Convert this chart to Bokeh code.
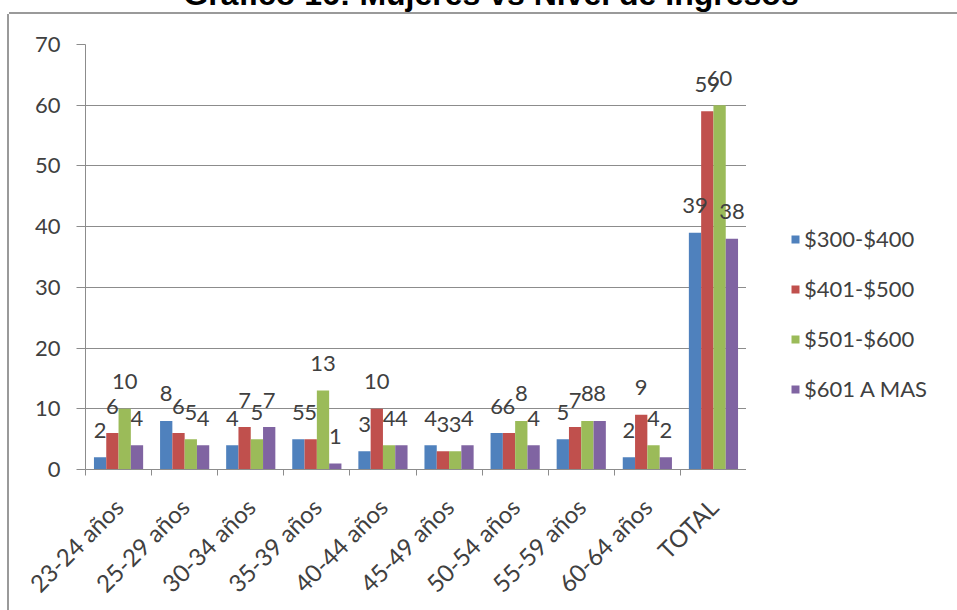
import numpy as np
from bokeh.plotting import figure
from bokeh.models import Range1d, FixedTicker, Legend, LegendItem, Div
from bokeh.layouts import column, row
from bokeh.core.properties import value
from bokeh.embed import file_html
from bokeh.resources import INLINE

# ---- data ----
categories = ["23-24 años", "25-29 años", "30-34 años", "35-39 años", "40-44 años",
              "45-49 años", "50-54 años", "55-59 años", "60-64 años", "TOTAL"]
series_names = ["$300-$400", "$401-$500", "$501-$600", "$601 A MAS"]
s300_400 = [2, 8, 4, 5, 3, 4, 6, 5, 2, 39]
s401_500 = [6, 6, 7, 5, 10, 3, 6, 7, 9, 59]
s501_600 = [10, 5, 5, 13, 4, 3, 8, 8, 4, 60]
s601_mas = [4, 4, 7, 1, 4, 4, 4, 8, 2, 38]
y_ticks = [0, 10, 20, 30, 40, 50, 60, 70]
title_text = "Gráfico 16: Mujeres vs Nivel de Ingresos"

series = [s300_400, s401_500, s501_600, s601_mas]
colors = ["#4F81BD", "#C0504D", "#9BBB59", "#8064A2"]
FONT = "Lato"
TXT = "#404040"
GRID = "#8c8c8c"
BORDER = "#9a9a9a"

n = len(categories)
p = figure(width=737, height=596, output_backend="svg", toolbar_location=None,
           x_range=Range1d(0, n), y_range=Range1d(0, 70),
           min_border_left=76, min_border_right=0, min_border_top=30,
           min_border_bottom=141)
p.outline_line_color = None
p.background_fill_color = "white"
p.border_fill_color = "white"

# axes
centers = np.arange(n) + 0.5
p.xaxis.ticker = FixedTicker(ticks=list(centers), minor_ticks=list(range(n + 1)))
p.xaxis.major_label_overrides = {float(c): lab for c, lab in zip(centers, categories)}
p.xaxis.major_label_orientation = np.pi / 4
p.xaxis.major_tick_line_color = None
p.xaxis.minor_tick_in = 0
p.xaxis.minor_tick_out = 6
p.xaxis.minor_tick_line_color = GRID
p.xaxis.axis_line_color = GRID
p.xaxis.major_label_standoff = 27
p.xaxis.major_label_text_font = FONT
p.xaxis.major_label_text_font_size = "24px"
p.xaxis.major_label_text_color = TXT

p.yaxis.ticker = FixedTicker(ticks=y_ticks)
p.yaxis.major_tick_in = 0
p.yaxis.major_tick_out = 9
p.yaxis.major_tick_line_color = GRID
p.yaxis.minor_tick_line_color = None
p.yaxis.axis_line_color = GRID
p.yaxis.major_label_standoff = 16
p.yaxis.major_label_text_font = FONT
p.yaxis.major_label_text_font_size = "22px"
p.yaxis.major_label_text_color = TXT

p.xgrid.grid_line_color = None
p.ygrid.grid_line_color = GRID
p.ygrid.grid_line_width = 1

# legend panel (separate small figure holding the legend)
lg = figure(width=209, height=596, output_backend="svg", toolbar_location=None,
            x_range=Range1d(0, 1), y_range=Range1d(0, 1),
            min_border=0, x_axis_type=None, y_axis_type=None)
lg.outline_line_color = None
lg.grid.grid_line_color = None
lg.border_fill_color = "white"

# bars
bw = 0.186
offsets = [-1.5 * bw, -0.5 * bw, 0.5 * bw, 1.5 * bw]
items = []
for vals, name, col, off in zip(series, series_names, colors, offsets):
    xs = centers + off
    p.vbar(x=xs, top=vals, width=bw, fill_color=col, line_color=None)
    swatch = lg.vbar(x=xs, top=vals, width=bw, fill_color=col, line_color=None,
                     visible=False)
    items.append(LegendItem(label=name, renderers=[swatch]))

# data labels drawn above all bars
for vals, off in zip(series, offsets):
    xs = centers + off
    p.text(x=xs, y=vals, text=[str(v) for v in vals], text_align="center",
           text_baseline="middle", y_offset=-27, text_font=value(FONT),
           text_font_size="22px", text_color=TXT)

legend = Legend(items=items, location=(44, 67), orientation="vertical",
                border_line_color=None, background_fill_alpha=0,
                inactive_fill_alpha=0,
                padding=0, margin=0, spacing=23, glyph_width=10, glyph_height=10,
                label_standoff=4, label_height=20,
                label_text_font=FONT, label_text_font_size="22px",
                label_text_color=TXT)
lg.add_layout(legend, "center")

# title strip (title partly above the page, as in the source) + top border line
top_html = (
    '<div style="position:relative;width:957px;height:14px;overflow:hidden;">'
    '<div style="position:absolute;left:0;top:-22px;width:982px;text-align:center;'
    "font-family:'Liberation Sans',Arial,sans-serif;font-weight:bold;font-size:32px;"
    'line-height:32px;white-space:nowrap;color:#000;">' + title_text + '</div>'
    '<div style="position:absolute;left:9px;right:0;top:12px;height:2px;'
    'background:' + BORDER + ';"></div></div>'
)
top_div = Div(text=top_html, width=957, height=14, margin=0)
left_div = Div(text="", width=9, height=596, margin=0,
               styles={"border-right": "2px solid " + BORDER})

layout = column(top_div, row(left_div, p, lg, spacing=0), spacing=0)
open("out.html", "w").write(file_html(layout, INLINE))
